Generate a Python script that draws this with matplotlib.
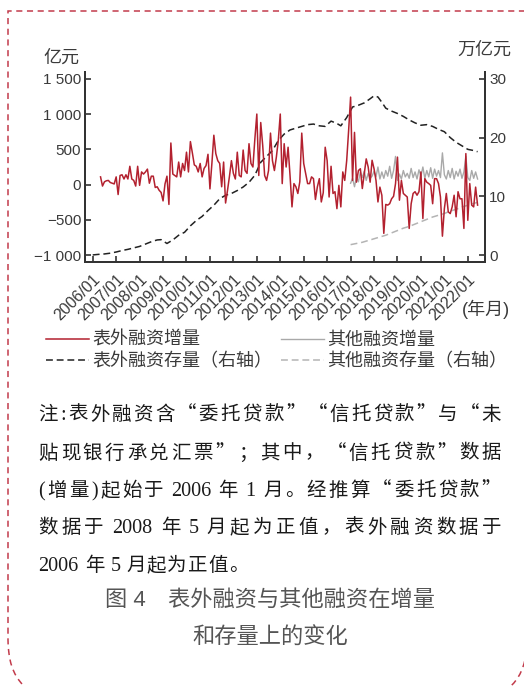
import re
import numpy as np
import matplotlib
matplotlib.use("Agg")
import matplotlib.pyplot as plt
from matplotlib.path import Path
from matplotlib.patches import PathPatch

W, H = 524, 686
plt.rcParams["font.family"] = ["Liberation Sans", "Noto Sans CJK SC"]
plt.rcParams["axes.unicode_minus"] = True

# ---- data (months counted from 2006/01) ----
offbs_flow_start = 4  # 2006/05
offbs_flow = [
    110, -20, 40, 55, 60, 30, 20, 10, 110, -140,
    130, 140, 80, 140, 80, 260, 80, 60, -20, 260,
    -10, 180, 150, 180, 220, 20, 120, 120, -40, -30,
    -80, -110, -230, 10, 120, -280, 590, 150, 130, 110,
    320, 110, 300, 200, 460, 180, 610, 450, 280, 260,
    180, 300, 110, 230, 270, 430, -60, 300, 700, 440,
    340, 300, -30, 320, -260, -80, 120, 340, 160, 80,
    460, 130, 110, 490, 200, 160, 580, 300, 250, 650,
    1000, 130, 880, 560, 130, 60, 200, 730, 340, 200,
    390, 630, 1000, 15, 580, 250, 530, 130, -315, 15,
    -30, -125, 40, 730, 300, 160, 15, 15, 110, 85,
    -210, -30, 85, -245, -115, 530, 340, -175, 260, -125,
    -100, -340, -10, -315, 180, 60, 340, 770, 1240, 60,
    740, 35, 200, 225, -55, 155, 365, 250, 35, 345,
    225, 60, -245, -35, -150, -690, -280, -290, -270, -200,
    -165, 15, 390, -220, 60, -125, -150, -175, -620, -270,
    -125, -100, -150, -100, 180, -480, 85, 35, 15, -10,
    -270, 85, 85, 15, -175, -730, -340, -125, -385, -410,
    -315, -150, -455, -100, -200, -200, -620, 440, -505, 15,
    -290, -315, -35, -290,
]
other_flow_start = 132  # 2017/01
other_flow = [
    20, 90, -30, 110, 40, 180, 100, 190, 60, 160,
    90, 120, 190, 110, 250, 80, 180, 90, 200, 120,
    260, 90, 200, 400, 60, 150, 80, 200, 110, 160,
    90, 230, 100, 180, 80, 210, 120, 250, 90, 200,
    110, 240, 90, 220, 120, 200, 100, 450, 140, 80,
    200, 100, 230, 80, 190, 120, 220, 90, 180, 400,
    100, 60, 200, 90, 180, 80,
]
offbs_stock_months = [0, 3, 6, 9, 12, 15, 18, 21, 24, 27, 30, 33, 35, 38, 41, 44,
                      47, 50, 53, 56, 59, 62, 65, 68, 71, 74, 77, 80, 83, 86, 89,
                      92, 95, 98, 101, 104, 107, 110, 113, 116, 119, 122, 125, 127,
                      130, 133, 136, 139, 142, 144, 146, 148, 150, 153, 156, 159,
                      162, 165, 168, 171, 174, 177, 180, 183, 186, 189, 192, 195, 197]
offbs_stock = [0.05, 0.15, 0.22, 0.35, 0.55, 0.8, 1.0, 1.25, 1.5, 1.9, 2.3, 2.6, 2.65,
               2.0, 2.6, 3.4, 3.9, 5.0, 5.9, 6.6, 7.6, 8.5, 9.6, 10.2, 10.5, 11.0,
               11.6, 12.4, 13.6, 15.8, 16.8, 17.8, 19.5, 20.6, 21.3, 21.6, 21.9,
               22.2, 22.3, 22.0, 21.9, 22.8, 22.4, 22.0, 23.4, 25.2, 25.5, 25.9,
               26.6, 27.1, 26.9, 26.0, 25.0, 24.5, 24.1, 23.6, 23.0, 22.5, 22.1,
               22.2, 21.9, 21.4, 21.0, 20.0, 19.2, 18.6, 18.0, 17.8, 17.6]
other_stock_months = [132, 135, 138, 141, 144, 147, 150, 153, 156, 159, 162, 165,
                      168, 171, 174, 177, 180, 183, 186, 189, 192, 195, 197]
other_stock = [1.8, 2.0, 2.2, 2.5, 2.8, 3.1, 3.4, 3.8, 4.2, 4.6, 4.9, 5.3, 5.7,
               6.1, 6.5, 6.8, 7.1, 7.5, 7.8, 8.2, 8.5, 8.8, 9.0]

tick_months = [0, 12, 24, 36, 48, 60, 72, 84, 96, 108, 120, 132, 144, 156, 168, 180, 192]
tick_labels = ["2006/01", "2007/01", "2008/01", "2009/01", "2010/01", "2011/01",
               "2012/01", "2013/01", "2014/01", "2015/01", "2016/01", "2017/01",
               "2018/01", "2019/01", "2020/01", "2021/01", "2022/01"]
left_ticks = [-1000, -500, 0, 500, 1000, 1500]
left_labels = ["\u22121 000", "\u2212500", "0", "500", "1 000", "1 500"]
right_ticks = [0, 10, 20, 30]

RED = "#b3212f"
GRAY = "#a9a9a9"
TXT = "#3a3a3a"

fig = plt.figure(figsize=(W / 100, H / 100), dpi=100)


def fx(x):
    return x / W


def fy(y):
    return 1 - y / H


ax = fig.add_axes([fx(85.3), fy(262.3), (485 - 85.3) / W, (262.3 - 71.7) / H])
ax2 = ax.twinx()

m_red = np.arange(offbs_flow_start, offbs_flow_start + len(offbs_flow))
m_gray = np.arange(other_flow_start, other_flow_start + len(other_flow))

l_red, = ax.plot(m_red, offbs_flow, color=RED, lw=1.1, zorder=4)
l_gray, = ax.plot(m_gray, other_flow, color=GRAY, lw=1.0, zorder=3)
l_blk, = ax2.plot(offbs_stock_months, offbs_stock, color="#222222", lw=1.1,
                  ls=(0, (4.5, 2.5)))
l_gdash, = ax2.plot(other_stock_months, other_stock, color="#b4b4b4", lw=1.1,
                    ls=(0, (4.5, 2.5)))
ax.set_zorder(ax2.get_zorder() + 1)
ax.patch.set_visible(False)

ax.set_xlim(-3.8, 200.8)
ax.set_ylim(-1100, 1600)
ax2.set_ylim(-1.2, 31.2)

ax.set_yticks(left_ticks, left_labels)
ax2.set_yticks(right_ticks)
ax.set_xticks(tick_months, tick_labels, rotation=45, ha="right", va="top",
              rotation_mode="anchor")

for a in (ax, ax2):
    for s in a.spines.values():
        s.set_color("#333333")
        s.set_linewidth(1.4)
    a.spines["top"].set_visible(False)
    a.tick_params(direction="in", length=4, width=1.2, color="#333333",
                  labelcolor=TXT, labelsize=11, pad=3)
ax.tick_params(axis="x", labelsize=11.5, pad=7)

fig.text(fx(61), fy(58), "亿元", fontsize=13, color=TXT, ha="center", va="center")
fig.text(fx(484), fy(50.5), "万亿元", fontsize=13, color=TXT, ha="center", va="center")
fig.text(fx(486), fy(309), "(年月)", fontsize=13, color=TXT, ha="center", va="center")

fig.legend([l_red, l_blk, l_gray, l_gdash],
           ["表外融资增量", "表外融资存量（右轴）", "其他融资增量", "其他融资存量（右轴）"],
           ncol=2, loc="upper left", bbox_to_anchor=(fx(46), fy(332)),
           frameon=False, fontsize=13, handlelength=2.4, handletextpad=0.15,
           columnspacing=0.5, labelspacing=0.2, borderpad=0, borderaxespad=0,
           labelcolor=TXT)

# ---- note text, justified ----
cjk_font = dict(fontsize=14, color="#1a1a1a", family=["Noto Sans CJK SC", "Liberation Serif"])
num_font = dict(fontsize=14.5, color="#1a1a1a", family=["Liberation Serif"])
note_lines = [
    "注:表外融资含“委托贷款”“信托贷款”与“未",
    "贴现银行承兑汇票”；其中，“信托贷款”数据",
    "(增量)起始于 2006 年 1 月。经推算“委托贷款”",
    "数据于 2008 年 5 月起为正值，表外融资数据于",
    "2006 年 5 月起为正值。",
]
note_y = [413, 451.5, 489, 526, 564]
renderer = fig.canvas.get_renderer()


def tok_font(tk):
    return num_font if (tk.isdigit() or tk in "():") else cjk_font


def width_px(s):
    t = fig.text(0, 0, s, **tok_font(s))
    w = t.get_window_extent(renderer).width
    t.remove()
    return w


x0, x1 = 38.5, 501
SPACE = 5.0
for i, (line, yc) in enumerate(zip(note_lines, note_y)):
    toks = re.findall(r"\d+|\s+|.", line)
    words = [tk for tk in toks if not tk.isspace()]
    n_sp = len(toks) - len(words)
    widths = [width_px(tk) for tk in words]
    if i < len(note_lines) - 1:
        extra = (x1 - x0 - sum(widths) - n_sp * SPACE) / (len(words) - 1)
    else:
        extra = 1.0
    x = x0
    for tk in toks:
        if tk.isspace():
            x += SPACE
            continue
        fig.text(fx(x), fy(yc + 7), tk, ha="left", va="baseline", **tok_font(tk))
        x += width_px(tk) + extra

fig.text(fx(270), fy(600), "图 4\u3000表外融资与其他融资在增量", fontsize=16,
         color="#555555", ha="center", va="center")
fig.text(fx(270), fy(638), "和存量上的变化", fontsize=16, color="#555555",
         ha="center", va="center")

# ---- dashed frame ----
verts = [(530, 11), (8, 11), (8, 640), (8, 700), (68, 700),
         (527, 640), (527, 700), (467, 700)]
codes = [Path.MOVETO, Path.LINETO, Path.LINETO, Path.CURVE3, Path.CURVE3,
         Path.MOVETO, Path.CURVE3, Path.CURVE3]
frame = Path([(fx(x), fy(y)) for x, y in verts], codes)
fig.patches.append(PathPatch(frame, transform=fig.transFigure, fill=False,
                             edgecolor="#c23b4b", lw=1.1, ls=(0, (4, 3))))

fig.savefig("out.png", dpi=100)
